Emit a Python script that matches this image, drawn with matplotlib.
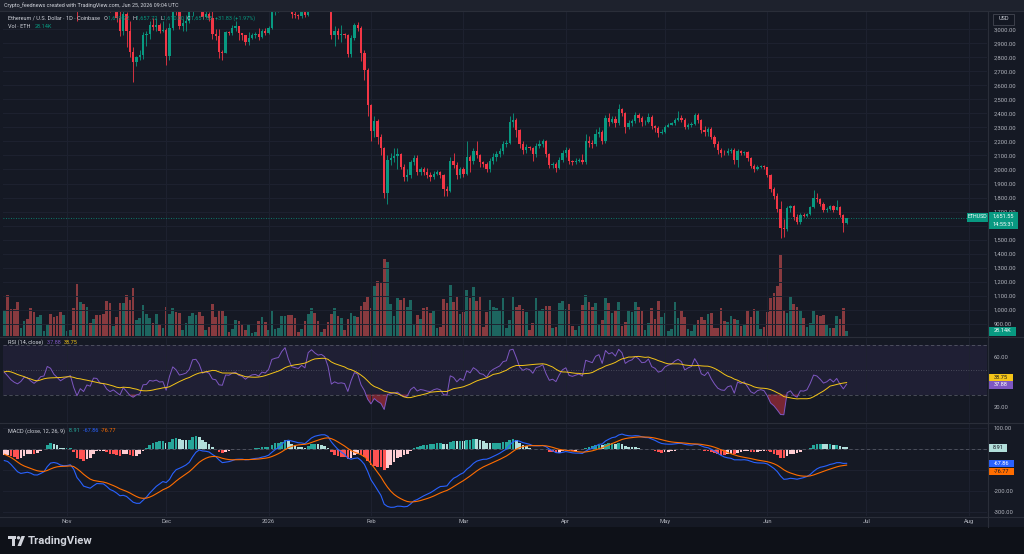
import numpy as np
import pandas as pd
import matplotlib
matplotlib.use("Agg")
import matplotlib.pyplot as plt
import matplotlib.dates as mdates
from matplotlib.patches import Rectangle, Circle, Polygon
from matplotlib.ticker import FixedLocator, FixedFormatter, FuncFormatter

plt.rcParams['font.family'] = ['Roboto', 'DejaVu Sans']

first_day = '2025-10-13'

# daily closes before the visible window (Sep 1 - Oct 12), only used to warm up RSI / MACD
warmup_close = [
    4390, 4320, 4450, 4300, 4300, 4280, 4300, 4310, 4300, 4350,
    4460, 4710, 4670, 4610, 4520, 4500, 4590, 4590, 4470, 4480,
    4450, 4200, 4160, 4150, 3870, 4030, 4010, 4140, 4220, 4140,
    4350, 4480, 4510, 4480, 4510, 4690, 4460, 4530, 4370, 3830,
    3750, 4150,
]

# ETH/USD daily candles, Oct 13 2025 - Jun 25 2026 (open = previous close)
close = [
    4245, 4125, 3985, 3890, 3830, 3885, 3985, 3975, 3875, 3800,
    3855, 3935, 3950, 4160, 4120, 3980, 3900, 3810, 3850, 3880,
    3905, 3600, 3285, 3420, 3310, 3440, 3400, 3570, 3560, 3420,
    3400, 3230, 3140, 3170, 3080, 2990, 3110, 2990, 2840, 2765,
    2800, 2815, 2960, 2965, 3030, 3015, 3030, 2990, 2995, 2805,
    3010, 3195, 3135, 3025, 3040, 3060, 3125, 3320, 3330, 3250,
    3085, 3110, 3080, 2965, 2950, 2840, 2830, 2980, 2975, 3005,
    3020, 2970, 2955, 2910, 2940, 2960, 2965, 2945, 2985, 2975,
    3010, 3125, 3140, 3150, 3230, 3290, 3190, 3110, 3100, 3090,
    3125, 3100, 3300, 3350, 3320, 3300, 3310, 3290, 3200, 2960,
    2985, 2960, 2965, 2955, 2825, 2935, 3030, 3010, 2830, 2710,
    2460, 2275, 2345, 2235, 2150, 1830, 2070, 2085, 2095, 2110,
    2020, 1950, 1960, 2050, 2085, 1980, 2000, 1985, 1960, 1950,
    1970, 1980, 1960, 1860, 1850, 2060, 2035, 1960, 2000, 1970,
    2090, 2060, 2130, 2100, 2050, 2040, 2000, 2060, 2090, 2110,
    2130, 2180, 2190, 2340, 2355, 2280, 2180, 2140, 2160, 2150,
    2110, 2170, 2180, 2200, 2110, 2030, 2040, 2010, 2070, 2120,
    2140, 2060, 2050, 2060, 2070, 2050, 2200, 2190, 2180, 2250,
    2270, 2200, 2370, 2340, 2360, 2330, 2430, 2400, 2300, 2330,
    2345, 2390, 2370, 2335, 2340, 2375, 2310, 2295, 2260, 2270,
    2305, 2320, 2330, 2355, 2370, 2355, 2300, 2315, 2325, 2385,
    2350, 2280, 2265, 2290, 2235, 2185, 2140, 2120, 2115, 2135,
    2140, 2065, 2130, 2115, 2125, 2080, 2025, 2005, 2020, 2025,
    2015, 1960, 1860, 1810, 1720, 1585, 1575, 1725, 1740, 1660,
    1625, 1675, 1670, 1680, 1730, 1800, 1790, 1755, 1710, 1720,
    1740, 1710, 1735, 1675, 1619.72, 1651.55,
]
high = [
    4290, 4250, 4210, 4080, 3950, 3900, 4020, 4090, 4100, 3900,
    3890, 4010, 3960, 4180, 4250, 4190, 4030, 3920, 3900, 3910,
    3920, 3910, 3620, 3470, 3440, 3460, 3460, 3590, 3650, 3600,
    3560, 3510, 3240, 3200, 3190, 3170, 3160, 3120, 3060, 2870,
    2810, 2850, 2980, 2990, 3055, 3080, 3080, 3045, 3060, 3005,
    3040, 3220, 3240, 3170, 3070, 3100, 3170, 3390, 3440, 3340,
    3270, 3130, 3125, 3175, 3000, 3000, 2850, 2990, 2990, 3030,
    3060, 3025, 2975, 2960, 2980, 2975, 2980, 3010, 3000, 3010,
    3020, 3160, 3170, 3180, 3260, 3310, 3300, 3200, 3140, 3110,
    3145, 3160, 3320, 3400, 3370, 3340, 3330, 3320, 3300, 3210,
    3020, 3010, 3030, 2975, 2965, 2960, 3045, 3050, 3020, 2850,
    2720, 2470, 2380, 2360, 2250, 2160, 2100, 2120, 2150, 2155,
    2120, 2040, 2000, 2070, 2100, 2100, 2020, 2020, 2010, 1980,
    1990, 1995, 1990, 1970, 1880, 2090, 2120, 2050, 2020, 2020,
    2200, 2100, 2150, 2200, 2110, 2060, 2050, 2080, 2120, 2130,
    2150, 2200, 2210, 2380, 2400, 2370, 2290, 2200, 2180, 2170,
    2160, 2190, 2210, 2220, 2210, 2120, 2050, 2050, 2090, 2140,
    2160, 2150, 2070, 2080, 2085, 2110, 2250, 2240, 2210, 2290,
    2300, 2280, 2390, 2400, 2380, 2380, 2470, 2440, 2410, 2350,
    2360, 2410, 2400, 2380, 2350, 2400, 2390, 2320, 2310, 2285,
    2320, 2330, 2340, 2370, 2420, 2385, 2370, 2330, 2340, 2400,
    2400, 2360, 2310, 2300, 2300, 2245, 2200, 2150, 2140, 2150,
    2155, 2150, 2145, 2140, 2135, 2130, 2090, 2040, 2030, 2035,
    2030, 2020, 1965, 1875, 1830, 1775, 1650, 1740, 1750, 1745,
    1680, 1690, 1690, 1690, 1740, 1855, 1830, 1800, 1765, 1735,
    1750, 1745, 1785, 1740, 1680, 1657.72,
]
low = [
    4090, 3900, 3940, 3850, 3680, 3820, 3860, 3920, 3700, 3720,
    3760, 3850, 3900, 3940, 4110, 3920, 3880, 3690, 3780, 3840,
    3840, 3520, 3060, 3220, 3250, 3200, 3370, 3370, 3540, 3410,
    3380, 3170, 3125, 3130, 3050, 2950, 2960, 2870, 2800, 2625,
    2740, 2780, 2790, 2880, 2930, 2995, 2990, 2975, 2980, 2745,
    2780, 2995, 3100, 3000, 2990, 2990, 3040, 3090, 3300, 3160,
    3070, 3080, 3060, 2930, 2920, 2795, 2780, 2830, 2960, 2960,
    2990, 2920, 2920, 2890, 2890, 2930, 2940, 2920, 2935, 2955,
    2965, 3000, 3100, 3120, 3140, 3200, 3150, 3080, 3080, 3075,
    3080, 3085, 3090, 3280, 3280, 3260, 3290, 3270, 3150, 2930,
    2880, 2930, 2910, 2940, 2800, 2800, 2920, 2990, 2770, 2640,
    2380, 2200, 2230, 2180, 2100, 1800, 1755, 2030, 2050, 2000,
    2000, 1920, 1920, 1940, 2030, 1960, 1960, 1960, 1940, 1920,
    1930, 1960, 1940, 1810, 1810, 1840, 2010, 1930, 1940, 1950,
    1960, 1980, 2040, 2080, 2020, 2020, 1980, 1980, 2040, 2060,
    2090, 2110, 2160, 2180, 2300, 2230, 2150, 2110, 2120, 2140,
    2060, 2090, 2150, 2160, 2090, 2010, 2010, 1980, 2000, 2050,
    2090, 2040, 2030, 2040, 2050, 2040, 2040, 2160, 2150, 2170,
    2230, 2180, 2190, 2310, 2330, 2300, 2320, 2380, 2260, 2290,
    2310, 2330, 2340, 2310, 2320, 2330, 2290, 2270, 2230, 2250,
    2260, 2300, 2315, 2320, 2345, 2340, 2285, 2290, 2305, 2320,
    2330, 2260, 2240, 2240, 2220, 2160, 2110, 2090, 2100, 2100,
    2120, 2040, 2020, 2100, 2105, 2060, 2010, 1980, 1995, 2010,
    2005, 1950, 1840, 1790, 1700, 1515, 1520, 1560, 1700, 1640,
    1610, 1610, 1660, 1665, 1675, 1725, 1770, 1740, 1700, 1700,
    1710, 1700, 1710, 1665, 1555, 1610.00,
]
# volume in thousands of ETH
volume_k = [
    147, 231, 150, 150, 192, 47, 85, 98, 156, 137,
    107, 118, 28, 66, 126, 107, 113, 135, 118, 28,
    32, 156, 295, 194, 179, 165, 75, 94, 120, 118,
    126, 197, 184, 56, 107, 188, 188, 231, 201, 273,
    90, 100, 173, 122, 100, 71, 122, 60, 43, 164,
    122, 156, 137, 132, 34, 71, 113, 128, 118, 137,
    115, 32, 51, 179, 107, 145, 141, 113, 23, 38,
    90, 85, 70, 32, 66, 19, 23, 85, 107, 81,
    32, 147, 38, 47, 113, 113, 117, 118, 100, 23,
    38, 85, 122, 160, 132, 85, 23, 38, 79, 122,
    160, 111, 100, 32, 98, 128, 113, 107, 169, 194,
    222, 160, 280, 310, 301, 432, 419, 182, 113, 212,
    203, 212, 165, 201, 70, 117, 94, 156, 165, 128,
    141, 43, 53, 207, 188, 286, 192, 224, 122, 135,
    261, 212, 276, 197, 226, 53, 135, 201, 165, 156,
    147, 212, 47, 88, 222, 164, 175, 150, 137, 34,
    75, 212, 141, 150, 169, 169, 43, 51, 184, 197,
    152, 182, 56, 34, 55, 175, 231, 192, 165, 186,
    70, 90, 212, 184, 128, 147, 190, 56, 79, 147,
    137, 192, 164, 141, 32, 73, 158, 98, 197, 109,
    130, 28, 41, 192, 102, 147, 107, 38, 28, 62,
    90, 107, 90, 126, 130, 47, 47, 156, 85, 79,
    115, 94, 88, 55, 60, 147, 107, 150, 147, 38,
    51, 135, 216, 241, 282, 455, 147, 132, 226, 179,
    164, 145, 100, 51, 71, 147, 117, 113, 117, 60,
    47, 47, 115, 96, 156, 28.14,
]

month_starts = ['2025-11-01', '2025-12-01', '2026-01-01', '2026-02-01', '2026-03-01',
                '2026-04-01', '2026-05-01', '2026-06-01', '2026-07-01', '2026-08-01']
month_labels = ['Nov', 'Dec', '2026', 'Feb', 'Mar', 'Apr', 'May', 'Jun', 'Jul', 'Aug']
price_ticks = list(range(900, 3001, 100))
macd_ticks = [-300, -200, -100, 0, 100]
# scale values whose labels sit under the last-value tags
hidden_price = [1600]
hidden_macd = [-100, 0]

# readouts printed in the pane legends / scale labels
rsi_last, rsi_ma_last = '37.88', '38.75'
hist_last, macd_last, signal_last = '8.91', '-67.86', '-76.77'
vol_last = '28.14K'

# colours
BG = '#151924'
GRID = '#1e2230'
TXT = '#b2b5be'
LEG = '#d1d4dc'
UP, DOWN = '#089981', '#f23645'
VUP, VDOWN = '#1d655f', '#883a3f'
RSI_C, RSI_MA_C = '#7e57c2', '#f5c518'
MACD_C, SIG_C = '#2962ff', '#ff6d00'

# ---- data prep ----
dates = pd.date_range(first_day, periods=len(close), freq='D')
x = mdates.date2num(dates)
c = np.array(close, float)
o = np.r_[warmup_close[-1], c[:-1]]
h = np.array(high, float)
l = np.array(low, float)
up = c >= o
n = len(close)

s = pd.Series(warmup_close + close, dtype=float)
d = s.diff()
gain = d.clip(lower=0).ewm(alpha=1 / 14, adjust=False).mean()
loss = (-d.clip(upper=0)).ewm(alpha=1 / 14, adjust=False).mean()
rsi_all = 100 - 100 / (1 + gain / loss)
rsi = rsi_all.values[-n:]
rsi_ma = rsi_all.rolling(14).mean().values[-n:]
macd_all = s.ewm(span=12, adjust=False).mean() - s.ewm(span=26, adjust=False).mean()
sig_all = macd_all.ewm(span=9, adjust=False).mean()
hist_all = (macd_all - sig_all).values
macd = macd_all.values[-n:]
sig = sig_all.values[-n:]
hist = hist_all[-n:]
prev_hist = hist_all[-n - 1:-1]
hist_col = np.where(hist >= 0,
                    np.where(hist > prev_hist, '#26a69a', '#b2dfdb'),
                    np.where(hist > prev_hist, '#ffcdd2', '#ff5252'))

nov1 = mdates.date2num(pd.Timestamp('2025-11-01'))
xlim = (nov1 - 19.4, nov1 + 278.5)
mticks = mdates.date2num(pd.to_datetime(month_starts))

# ---- figure ----
fig = plt.figure(figsize=(10.24, 5.54), dpi=100, facecolor=BG)


def frame(top, bottom, left=3, right=987):
    return [left / 1024, 1 - bottom / 554, (right - left) / 1024, (bottom - top) / 554]


def scale_fmt(hidden):
    return FuncFormatter(lambda v, p: '' if round(v) in hidden else f'{v:,.2f}')


ax = fig.add_axes(frame(11, 336))
axv = ax.twinx()
ax_rsi = fig.add_axes(frame(337, 422))
ax_macd = fig.add_axes(frame(423, 516))

for a in (ax, ax_rsi, ax_macd):
    a.set_xlim(*xlim)
    a.set_facecolor(BG)
    for sp in a.spines.values():
        sp.set_visible(False)
    a.xaxis.set_major_locator(FixedLocator(mticks))
    a.grid(axis='x', color=GRID, lw=0.7)
    a.yaxis.tick_right()
    a.tick_params(axis='y', length=0, pad=5, labelsize=4.2, labelcolor=TXT)
    a.tick_params(axis='x', length=0, labelbottom=False)

# volume (own scale, behind the candles)
axv.set_zorder(1)
ax.set_zorder(2)
ax.patch.set_visible(False)
axv.patch.set_visible(True)
axv.patch.set_facecolor(BG)
axv.set_ylim(0, 1832)
axv.set_yticks([])
for sp in axv.spines.values():
    sp.set_visible(False)
axv.bar(x, volume_k, width=0.8, color=np.where(up, VUP, VDOWN), linewidth=0)

# price candles
ax.set_ylim(814, 3129)
ax.set_yticks(price_ticks)
ax.yaxis.set_major_formatter(scale_fmt(hidden_price))
ax.grid(axis='y', color=GRID, lw=0.7)
col = np.where(up, UP, DOWN)
ax.vlines(x, l, h, colors=col, lw=0.6, zorder=3)
ax.bar(x, np.maximum(np.abs(c - o), 3), bottom=np.minimum(o, c), width=0.7,
       color=col, linewidth=0, zorder=4)
ax.axhline(c[-1], color=UP, lw=0.6, ls=(0, (1, 2)), zorder=2)

# RSI pane
ax_rsi.set_ylim(8, 76)
ax_rsi.set_yticks([20, 60])
ax_rsi.yaxis.set_major_formatter(scale_fmt([]))
ax_rsi.axhspan(30, 70, color=RSI_C, alpha=0.1, lw=0)
for lev, st in ((70, (0, (4, 3))), (30, (0, (4, 3))), (50, (0, (1, 2)))):
    ax_rsi.axhline(lev, color='#787b86', lw=0.6, ls=st, alpha=0.6)
ax_rsi.fill_between(x, rsi, 30, where=rsi < 30, interpolate=True, color=DOWN, alpha=0.45, lw=0)
ax_rsi.fill_between(x, rsi, 70, where=rsi > 70, interpolate=True, color=UP, alpha=0.45, lw=0)
ax_rsi.plot(x, rsi, color=RSI_C, lw=0.7)
ax_rsi.plot(x, rsi_ma, color=RSI_MA_C, lw=0.7)

# MACD pane
ax_macd.set_ylim(-320, 124)
ax_macd.set_yticks(macd_ticks)
ax_macd.yaxis.set_major_formatter(scale_fmt(hidden_macd))
ax_macd.grid(axis='y', color=GRID, lw=0.7)
ax_macd.axhline(0, color='#787b86', lw=0.6, ls=(0, (4, 3)), alpha=0.6)
ax_macd.bar(x, hist, width=0.8, color=hist_col, linewidth=0)
ax_macd.plot(x, macd, color=MACD_C, lw=0.8)
ax_macd.plot(x, sig, color=SIG_C, lw=0.8)
ax_macd.xaxis.set_major_formatter(FixedFormatter(month_labels))
ax_macd.tick_params(axis='x', labelbottom=True, labelsize=4.2, labelcolor=TXT, pad=2)

# ---- overlay in pixel coordinates ----
ov = fig.add_axes([0, 0, 1, 1])
ov.set_xlim(0, 1024)
ov.set_ylim(554, 0)
ov.axis('off')
ov.set_zorder(10)

ov.add_patch(Rectangle((0, 0), 1024, 10.5, color='#1e222d', lw=0))
ov.text(4, 5.5, 'Crypto_feednews created with TradingView.com, Jun 25, 2026 09:04 UTC',
        color=LEG, fontsize=3.9, va='center')
ov.add_patch(Rectangle((0, 527), 1024, 27, color='#0e1118', lw=0))
for yy in (10.5, 336.5, 422.5, 516.5):
    ov.plot([0, 1024], [yy, yy], color='#2a2e39', lw=0.8)
ov.plot([987.5, 987.5], [10.5, 527], color='#2a2e39', lw=0.8)

renderer = fig.canvas.get_renderer()


def run(x0, y0, parts, size=4.0):
    for txt, colr in parts:
        t = ov.text(x0, y0, txt, color=colr, fontsize=size, va='center', ha='left')
        x0 += t.get_window_extent(renderer=renderer).width


chg = c[-1] - c[-2]
run(8, 18, [('Ethereum / U.S. Dollar · 1D · Coinbase   ', LEG),
            ('O', LEG), (f'{o[-1]:,.2f}  ', UP), ('H', LEG), (f'{h[-1]:,.2f}  ', UP),
            ('L', LEG), (f'{l[-1]:,.2f}  ', UP), ('C', LEG), (f'{c[-1]:,.2f}  ', UP),
            (f'+{chg:.2f} (+{chg / c[-2] * 100:.2f}%)', UP)])
run(8, 27, [('Vol · ETH   ', LEG), (vol_last, UP)])
run(8, 342.5, [('RSI (14, close)   ', LEG), (rsi_last + '  ', RSI_C), (rsi_ma_last, RSI_MA_C)])
run(8, 431, [('MACD (close, 12, 26, 9)   ', LEG), (hist_last + '  ', '#26a69a'),
             (macd_last + '  ', MACD_C), (signal_last, SIG_C)])


def tag(x0, y0, w, hgt, lines, fc, tc, size=4.1):
    ov.add_patch(Rectangle((x0, y0), w, hgt, facecolor=fc, edgecolor='none'))
    step = hgt / len(lines)
    for k, t in enumerate(lines):
        ov.text(x0 + w / 2, y0 + step * (k + 0.5), t, color=tc, fontsize=size,
                ha='center', va='center')


ov.add_patch(Rectangle((993, 13.5), 21, 11, facecolor='#131722', edgecolor='#434651', lw=0.6))
ov.text(1003.5, 19, 'USD', color=LEG, fontsize=4, ha='center', va='center')
tag(967, 212.5, 21, 9, ['ETHUSD'], UP, 'white', size=3.8)
tag(989, 212, 29, 17, [f'{c[-1]:,.2f}', '14:55:31'], UP, 'white')
tag(989, 326.5, 27, 9, [vol_last], UP, 'white')
tag(989, 373.5, 24, 7.5, [rsi_ma_last], RSI_MA_C, '#131722')
tag(989, 381, 24, 7.5, [rsi_last], RSI_C, 'white')
tag(989, 444, 18, 7.5, [hist_last], '#b2dfdb', '#131722')
tag(989, 459.5, 25, 7.5, [macd_last], MACD_C, 'white')
tag(989, 467.5, 25, 7.5, [signal_last], SIG_C, '#131722')

# TradingView logo
ov.add_patch(Rectangle((8, 536), 8, 3.2, color='#d1d4dc', lw=0))
ov.add_patch(Rectangle((11.6, 536), 3.2, 10, color='#d1d4dc', lw=0))
ov.add_patch(Circle((18.5, 537.8), 1.7, color='#d1d4dc', lw=0))
ov.add_patch(Polygon([(17.5, 546), (21.5, 536), (25, 536), (21, 546)], color='#d1d4dc', lw=0))
ov.text(28, 541.5, 'TradingView', color='#d1d4dc', fontsize=8.2, fontweight='bold', va='center')

fig.savefig('out.png', dpi=100, facecolor=BG)
